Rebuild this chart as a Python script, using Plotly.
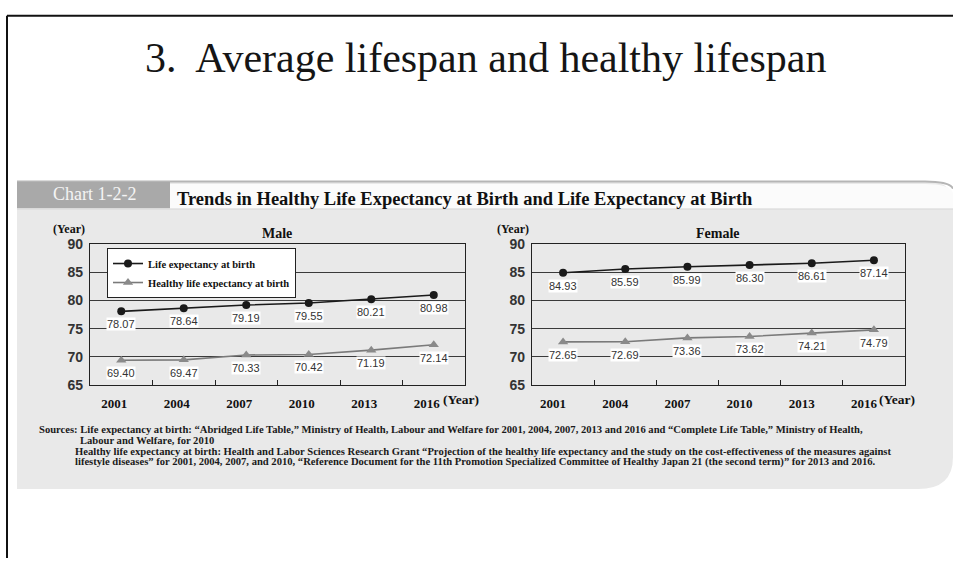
import plotly.graph_objects as go

# ---- data -------------------------------------------------------------
years = ["2001", "2004", "2007", "2010", "2013", "2016"]
male_life = [78.07, 78.64, 79.19, 79.55, 80.21, 80.98]
male_healthy = [69.40, 69.47, 70.33, 70.42, 71.19, 72.14]
female_life = [84.93, 85.59, 85.99, 86.30, 86.61, 87.14]
female_healthy = [72.65, 72.69, 73.36, 73.62, 74.21, 74.79]
y_ticks = [65, 70, 75, 80, 85, 90]

series_names = ["Life expectancy at birth", "Healthy life expectancy at birth"]

W, H = 953, 566


def px(x):
    return x / W


def py(y):
    return 1 - y / H


SERIF = "Liberation Serif, Times New Roman, serif"
SANS = "Liberation Sans, Arial, sans-serif"

fig = go.Figure()

panels = [
    ("x", "y", male_life, male_healthy, True),
    ("x2", "y2", female_life, female_healthy, False),
]

for xa, ya, life, healthy, show in panels:
    fig.add_trace(go.Scatter(
        x=years, y=life, xaxis=xa, yaxis=ya, name=series_names[0],
        mode="lines+markers", showlegend=show,
        line=dict(color="#1a1a1a", width=1.6),
        marker=dict(symbol="circle", size=8, color="#1a1a1a"),
    ))
    fig.add_trace(go.Scatter(
        x=years, y=healthy, xaxis=xa, yaxis=ya, name=series_names[1],
        mode="lines+markers", showlegend=show,
        line=dict(color="#7a7a7a", width=1.6),
        marker=dict(symbol="triangle-up", size=9, color="#8a8a8a"),
    ))

annotations = []

# value labels under each point (category axes are addressed by index)
for xa, ya, life, healthy, _ in panels:
    for vals in (life, healthy):
        for i, v in enumerate(vals):
            annotations.append(dict(
                x=i, y=v, xref=xa, yref=ya, text=f"{v:.2f}",
                showarrow=False, yshift=-13, bgcolor="white", borderpad=0,
                xanchor="center", yanchor="middle",
                font=dict(family=SANS, size=11, color="#333333"),
            ))


def label(x, y, text, size, weight="bold", color="#111111", family=SERIF,
          xanchor="center"):
    return dict(x=px(x), y=py(y), xref="paper", yref="paper", text=text,
                showarrow=False, xanchor=xanchor, yanchor="middle",
                font=dict(family=family, size=size, color=color, weight=weight))


# slide heading and chart caption
annotations += [
    label(485, 51, "3.\u00a0 Average lifespan and healthy lifespan", 42,
          weight="normal", color="#151515"),
    label(94, 191, "Chart 1-2-2", 18, weight="normal", color="#f4f4f4"),
    label(175, 197,
          "Trends in Healthy Life Expectancy at Birth and Life Expectancy at Birth",
          18.5, xanchor="left"),
]

# panel titles and axis unit labels
for cx, title, ylab_x, year_x in [(277, "Male", 69, 461), (718, "Female", 513, 897)]:
    annotations += [
        label(cx, 232, title, 14),
        label(ylab_x, 227, "(Year)", 12),
        label(year_x, 403, "(Year)", 13.5),
    ]

# sources
source_lines = [
    (37, 434, "Sources: Life expectancy at birth: \u201cAbridged Life Table,\u201d Ministry of Health, Labour and Welfare for 2001, 2004, 2007, 2013 and 2016 and \u201cComplete Life Table,\u201d Ministry of Health,"),
    (78, 445, "Labour and Welfare, for 2010"),
    (73, 456, "Healthy life expectancy at birth: Health and Labor Sciences Research Grant \u201cProjection of the healthy life expectancy and the study on the cost-effectiveness of the measures against"),
    (73, 467, "lifestyle diseases\u201d for 2001, 2004, 2007, and 2010, \u201cReference Document for the 11th Promotion Specialized Committee of Healthy Japan 21 (the second term)\u201d for 2013 and 2016."),
]
for sx, sy, txt in source_lines:
    annotations.append(label(sx, sy, txt, 10.6, color="#1a1a1a", xanchor="left"))

# panel background, caption strip and page border
shapes = [
    dict(type="path", xref="paper", yref="paper", layer="below",
         path=(f"M {px(17)},{py(178)} L {px(925)},{py(178)} "
               f"Q {px(953)},{py(178)} {px(953)},{py(200)} "
               f"L {px(953)},{py(462)} Q {px(953)},{py(495)} {px(918)},{py(495)} "
               f"L {px(17)},{py(495)} Z"),
         fillcolor="#e9e9e9", line=dict(width=0)),
    dict(type="path", xref="paper", yref="paper", layer="below",
         path=(f"M {px(170)},{py(181)} L {px(925)},{py(181)} "
               f"Q {px(950)},{py(181)} {px(953)},{py(190)} "
               f"L {px(953)},{py(206)} L {px(170)},{py(206)} Z"),
         fillcolor="#fbfbfb", line=dict(width=0)),
    dict(type="path", xref="paper", yref="paper", layer="below",
         path=(f"M {px(17)},{py(178.5)} L {px(925)},{py(178.5)} "
               f"Q {px(950)},{py(178.5)} {px(953)},{py(186)}"),
         line=dict(color="#b5b5b5", width=2)),
    dict(type="rect", xref="paper", yref="paper", layer="below",
         x0=px(17), x1=px(170), y0=py(179), y1=py(206),
         fillcolor="#a9a9a9", line=dict(width=0)),
    dict(type="line", xref="paper", yref="paper", layer="below",
         x0=px(17), x1=px(953), y0=py(207), y1=py(207),
         line=dict(color="#dcdcdc", width=1)),
    dict(type="line", xref="paper", yref="paper",
         x0=px(7), x1=px(953), y0=py(8), y1=py(8),
         line=dict(color="#111111", width=2)),
    dict(type="line", xref="paper", yref="paper",
         x0=px(7), x1=px(7), y0=py(8), y1=py(566),
         line=dict(color="#111111", width=2)),
]


def xaxis_style(shift):
    return dict(
        type="category", range=[-0.5, 5.5], tickson="boundaries",
        ticks="inside", ticklen=5, tickcolor="#222222", tickwidth=1.2,
        showgrid=False, showline=True, mirror=True, linecolor="#222222",
        linewidth=1.2, fixedrange=True, ticklabelstandoff=6,
        ticklabelshift=shift,
        tickfont=dict(family=SERIF, size=13, color="#111111", weight="bold"),
    )


yaxis_style = dict(
    range=[65, 90], tickvals=y_ticks, showgrid=True, gridcolor="#3a3a3a",
    gridwidth=1.2, showline=True, mirror=True, linecolor="#222222",
    linewidth=1.2, ticks="", ticklabelstandoff=3, zeroline=False,
    fixedrange=True,
    tickfont=dict(family=SANS, size=14, color="#333333", weight="bold"),
)

fig.update_layout(
    width=W, height=H, autosize=False,
    margin=dict(l=0, r=0, t=0, b=0),
    paper_bgcolor="white", plot_bgcolor="white",
    xaxis=dict(domain=[px(90), px(465)], anchor="y", **xaxis_style(-7)),
    yaxis=dict(domain=[py(388), py(243)], anchor="x", **yaxis_style),
    xaxis2=dict(domain=[px(532), px(905)], anchor="y2", **xaxis_style(-10)),
    yaxis2=dict(domain=[py(388), py(243)], anchor="x2", **yaxis_style),
    legend=dict(
        x=px(107), y=py(247), xanchor="left", yanchor="top",
        bgcolor="white", bordercolor="#222222", borderwidth=1,
        font=dict(family=SERIF, size=10.5, color="#111111", weight="bold"),
        tracegroupgap=0, itemwidth=30,
    ),
    annotations=annotations,
    shapes=shapes,
)

fig.write_html("out.html")
